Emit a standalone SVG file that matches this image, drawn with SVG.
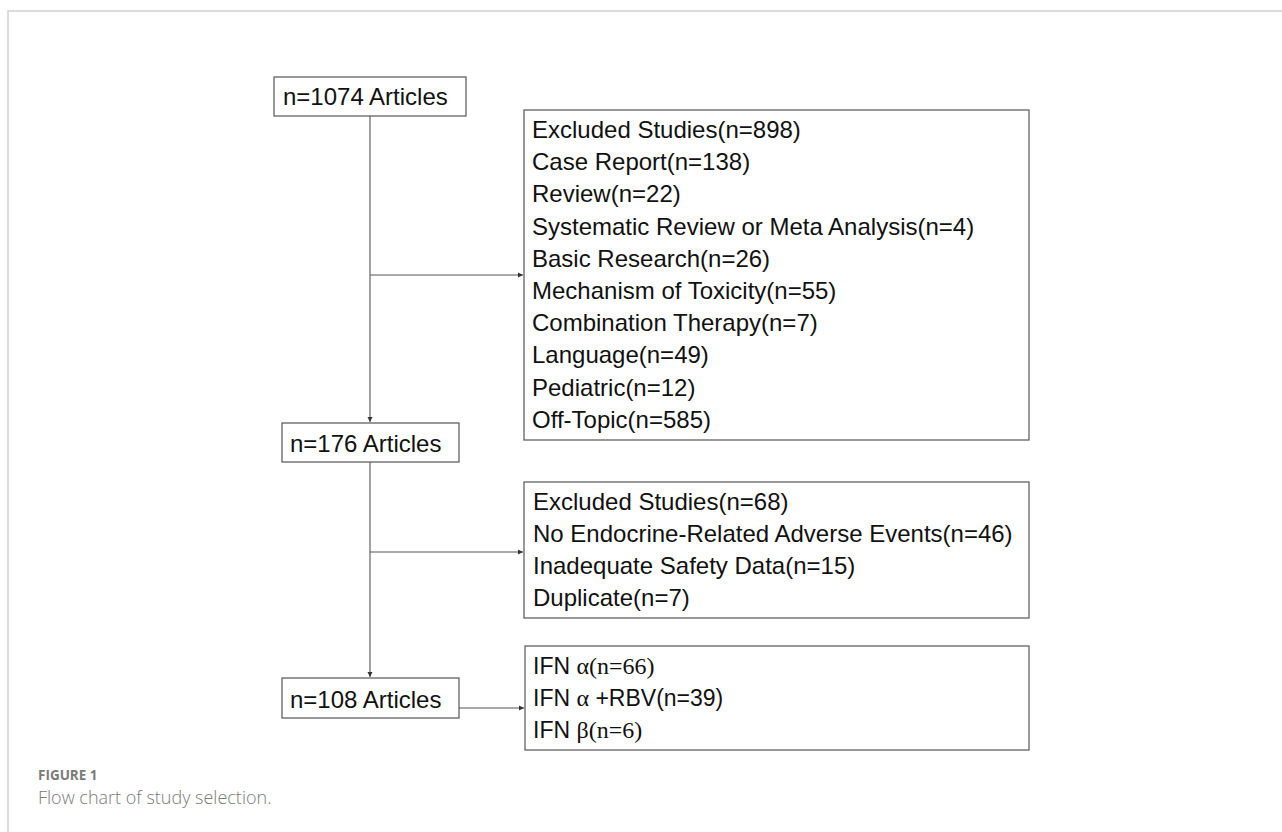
<svg xmlns="http://www.w3.org/2000/svg" width="1282" height="832" viewBox="0 0 1282 832">
<style>
.box{fill:#fff;stroke:#555;stroke-width:1.2}
.t{font-family:"Liberation Sans",Arial,sans-serif;font-size:24px;fill:#111}
.ti{font-family:"Liberation Sans",Arial,sans-serif;font-size:23px;fill:#111}
.sr{font-family:"Liberation Serif","Times New Roman",serif;font-size:24px}
.c{stroke:#555;stroke-width:1.1;fill:none}
.frame{stroke:#d0d0d0;stroke-width:1.5;fill:none}
.cap1{font-family:"Open Sans","Liberation Sans",sans-serif;font-size:13.5px;font-weight:700;fill:#7a7a7a}
.cap2{font-family:"Open Sans","Liberation Sans",sans-serif;font-size:18px;font-weight:300;fill:#7a7a7a}
</style>
<defs>
<marker id="ah" markerWidth="6" markerHeight="6" refX="5" refY="3" orient="auto" markerUnits="userSpaceOnUse">
<path d="M0,0.5 L5,3 L0,5.5 Z" fill="#333"/>
</marker>
</defs>
<rect width="1282" height="832" fill="#fff"/>
<path class="frame" d="M8,832 V11 H1282"/>

<g id="connectors">
<line class="c" x1="370" y1="116" x2="370" y2="422" marker-end="url(#ah)"/>
<line class="c" x1="370" y1="275" x2="523" y2="275" marker-end="url(#ah)"/>
<line class="c" x1="370" y1="462" x2="370" y2="677" marker-end="url(#ah)"/>
<line class="c" x1="370" y1="552" x2="523" y2="552" marker-end="url(#ah)"/>
<line class="c" x1="459" y1="708" x2="524" y2="708" marker-end="url(#ah)"/>
</g>

<g id="n1074">
<rect class="box" x="274" y="77" width="192" height="39"/>
<text class="t" x="283" y="105">n=1074 Articles</text>
</g>

<g id="excluded898">
<rect class="box" x="524" y="110" width="505" height="330"/>
<text class="t" x="532" y="138">Excluded Studies(n=898)</text>
<text class="t" x="532" y="170.2">Case Report(n=138)</text>
<text class="t" x="532" y="202.4">Review(n=22)</text>
<text class="t" x="532" y="234.6">Systematic Review or Meta Analysis(n=4)</text>
<text class="t" x="532" y="266.8">Basic Research(n=26)</text>
<text class="t" x="532" y="299">Mechanism of Toxicity(n=55)</text>
<text class="t" x="532" y="331.2">Combination Therapy(n=7)</text>
<text class="t" x="532" y="363.4">Language(n=49)</text>
<text class="t" x="532" y="395.6">Pediatric(n=12)</text>
<text class="t" x="532" y="427.8">Off-Topic(n=585)</text>
</g>

<g id="n176">
<rect class="box" x="282" y="423" width="177" height="39"/>
<text class="t" x="290" y="452">n=176 Articles</text>
</g>

<g id="excluded68">
<rect class="box" x="524" y="482" width="505" height="136"/>
<text class="t" x="533" y="510">Excluded Studies(n=68)</text>
<text class="t" x="533" y="542">No Endocrine-Related Adverse Events(n=46)</text>
<text class="t" x="533" y="574">Inadequate Safety Data(n=15)</text>
<text class="t" x="533" y="606">Duplicate(n=7)</text>
</g>

<g id="n108">
<rect class="box" x="282" y="678" width="177" height="40"/>
<text class="t" x="290" y="708">n=108 Articles</text>
</g>

<g id="ifn">
<rect class="box" x="525" y="646" width="504" height="104"/>
<text class="ti" x="533" y="674">IFN <tspan class="sr">α(n=66)</tspan></text>
<text class="ti" x="533" y="706">IFN <tspan class="sr">α</tspan> +RBV(n=39)</text>
<text class="ti" x="533" y="738">IFN <tspan class="sr">β(n=6)</tspan></text>
</g>

<g id="caption">
<text class="cap1" x="38" y="780">FIGURE 1</text>
<text class="cap2" x="38" y="804">Flow chart of study selection.</text>
</g>
</svg>
